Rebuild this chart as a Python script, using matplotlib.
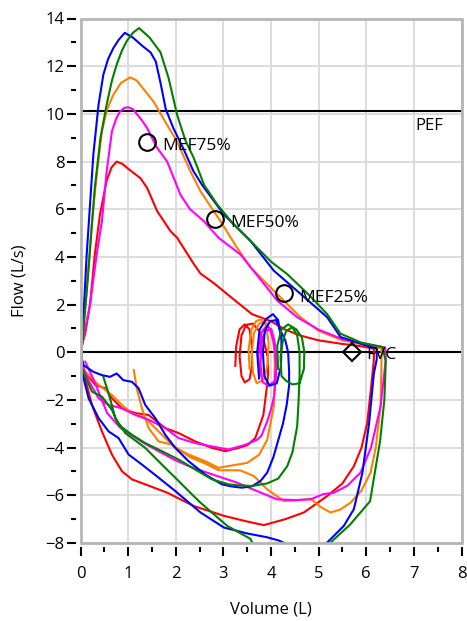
import matplotlib
matplotlib.use("Agg")
import matplotlib.pyplot as plt
from matplotlib.patches import Rectangle
from matplotlib.ticker import MultipleLocator

plt.rcParams['font.family'] = ['Open Sans', 'DejaVu Sans']

# ---------------- data (volume L, flow L/s) ----------------
red_vol = [3.25, 3.27, 3.34, 3.45, 3.55, 3.60, 3.60, 3.55, 3.45, 3.38, 3.34, 3.38, 3.48, 3.62, 3.75, 3.86, 3.93, 3.94,
           3.91, 3.84, 3.67, 3.50, 3.32, 3.04, 2.76, 2.41, 2.06, 1.78, 1.43, 1.15, 0.87, 0.66, 0.52, 0.31, 0.07, 0.02,
           0.03, 0.10, 0.20, 0.30, 0.41, 0.55, 0.65, 0.76, 0.88, 1.00, 1.26, 1.40, 1.61, 1.89, 2.03, 2.38, 2.52, 2.80, 3.08, 3.60, 4.00, 4.30, 4.62, 5.00, 5.46, 5.90, 6.16,
           6.16, 6.10, 6.02, 5.90, 5.74, 5.50, 5.18, 4.69, 4.30, 3.85, 3.50, 3.01, 2.38, 1.82, 1.36, 1.08, 0.87, 0.66, 0.45, 0.24, 0.07]
red_flow = [-0.57, 0.26, 0.96, 1.17, 0.96, 0.26, -0.57, -1.13, -1.27, -0.99, -0.16, 0.70, 1.15, 1.20, 0.90, 0.40, -0.20, -0.90,
            -1.51, -2.63, -3.60, -3.90, -4.01, -4.15, -4.01, -3.74, -3.39, -3.18, -2.63, -2.55, -2.35, -1.93, -1.51, -1.37, -0.75, -0.20,
            0.30, 0.80, 2.00, 4.10, 5.80, 7.20, 7.75, 8.00, 7.90, 7.70, 7.30, 6.89, 5.92, 5.08, 4.80, 3.70, 3.30, 2.90, 2.44, 1.60, 1.30, 0.95, 0.70, 0.50, 0.36, 0.25, 0.15,
            -0.33, -1.50, -2.97, -4.00, -4.78, -5.50, -6.03, -6.72, -7.00, -7.25, -7.10, -6.86, -6.45, -5.89, -5.54, -5.33, -4.99, -4.29, -3.32, -2.21, -0.89]

orange_vol = [3.55, 3.53, 3.59, 3.69, 3.80, 3.90, 3.95, 3.93, 3.85, 3.70, 3.62, 3.60, 3.64, 3.75, 3.88, 4.00, 4.07, 4.08,
              4.07, 4.06, 3.92, 3.75, 3.50, 3.08, 2.90, 2.62, 2.27, 1.99, 1.78, 1.57, 1.36, 1.08, 0.87, 0.66, 0.38, 0.10, 0.02,
              0.03, 0.12, 0.24, 0.35, 0.45, 0.56, 0.69, 0.85, 1.04, 1.18, 1.30, 1.42, 1.54, 1.80, 2.03, 2.31, 2.52, 2.94, 3.25, 3.57, 4.20, 4.62, 5.00, 5.50, 6.00, 6.32,
              6.32, 6.30, 6.20, 6.09, 5.90, 5.67, 5.45, 5.25, 5.05, 4.83, 4.60, 4.27, 3.92, 3.64, 3.35, 2.90, 2.60, 2.30, 2.05, 1.92, 1.64, 1.43, 1.29, 1.18, 1.12]
orange_flow = [-0.70, 0.13, 0.96, 1.31, 1.38, 1.10, 0.40, -0.50, -1.15, -1.30, -0.85, 0.00, 0.80, 1.20, 1.30, 0.90, 0.20, -0.60,
               -1.50, -2.28, -3.67, -4.30, -4.64, -4.78, -4.85, -4.57, -4.29, -4.01, -3.60, -3.18, -2.76, -2.55, -2.21, -1.79, -1.37, -0.82, -0.30,
               0.30, 2.40, 5.50, 7.60, 9.27, 10.20, 10.80, 11.30, 11.53, 11.40, 11.10, 10.80, 10.50, 9.60, 8.83, 7.58, 6.75, 5.50, 4.50, 3.56, 2.30, 1.47, 0.90, 0.50, 0.30, 0.15,
               -0.40, -2.28, -4.00, -5.05, -5.80, -6.31, -6.60, -6.72, -6.50, -6.14, -6.20, -6.24, -5.75, -5.19, -4.95, -4.95, -4.65, -4.40, -4.05, -3.88, -3.74, -3.18, -2.35, -1.51, -0.75]

magenta_vol = [3.76, 3.73, 3.80, 3.90, 4.01, 4.08, 4.11, 4.08, 3.95, 3.82, 3.78, 3.80, 3.88, 3.98, 4.05, 4.10, 4.10,
               4.07, 4.00, 3.92, 3.80, 3.71, 3.46, 3.11, 2.76, 2.41, 2.06, 1.78, 1.43, 1.15, 0.87, 0.59, 0.38, 0.20, 0.06, 0.02,
               0.03, 0.20, 0.34, 0.45, 0.55, 0.66, 0.75, 0.83, 0.92, 1.00, 1.10, 1.20, 1.30, 1.40, 1.60, 1.82, 2.10, 2.30, 2.59, 2.90, 3.36, 3.80, 4.13, 4.55, 5.00, 5.50, 6.00, 6.40,
               6.41, 6.30, 6.10, 5.88, 5.60, 5.32, 5.10, 4.83, 4.50, 4.13, 3.80, 3.29, 2.66, 2.30, 1.96, 1.33, 0.84, 0.56, 0.28, 0.10]
magenta_flow = [-0.99, -0.16, 0.83, 1.10, 0.96, 0.41, -0.57, -1.20, -1.40, -1.25, -0.50, 0.40, 0.90, 0.95, 0.50, -0.30, -1.00,
                -1.80, -2.40, -2.90, -3.50, -3.67, -3.88, -4.08, -3.95, -3.81, -3.60, -3.18, -2.83, -2.63, -2.35, -2.21, -1.93, -1.30, -0.68, -0.20,
                0.30, 2.00, 4.10, 5.50, 7.60, 9.27, 9.80, 10.10, 10.25, 10.28, 10.20, 9.95, 9.70, 9.40, 8.60, 8.00, 6.60, 6.00, 5.50, 4.80, 4.10, 3.00, 2.17, 1.47, 0.95, 0.55, 0.35, 0.20,
                -0.30, -2.28, -4.00, -5.05, -5.60, -5.89, -5.95, -6.17, -6.20, -6.17, -5.90, -5.47, -5.05, -4.80, -4.50, -3.81, -3.18, -2.55, -1.17, -0.40]

blue_vol = [3.75, 3.71, 3.76, 3.90, 4.04, 4.15, 4.22, 4.21, 4.12, 3.97, 3.86, 3.83, 3.87, 3.98, 4.10, 4.20, 4.30, 4.36, 4.38, 4.38,
            4.33, 4.25, 4.15, 4.05, 3.92, 3.78, 3.60, 3.39, 3.15, 2.97, 2.62, 2.27, 1.99, 1.78, 1.57, 1.36, 1.22, 1.08, 0.90, 0.76, 0.62, 0.45, 0.27, 0.06, 0.02,
            0.03, 0.13, 0.27, 0.38, 0.48, 0.58, 0.69, 0.80, 0.93, 1.10, 1.30, 1.47, 1.58, 1.68, 1.79, 1.95, 2.17, 2.37, 2.56, 3.01, 3.57, 4.06, 4.62, 5.18, 5.46, 5.90, 6.22,
            6.22, 6.16, 6.06, 5.92, 5.74, 5.53, 5.17, 4.70, 4.17, 3.92, 3.50, 3.01, 2.52, 1.99, 1.64, 1.29, 1.01, 0.80, 0.59, 0.38, 0.17, 0.03]
blue_flow = [-1.10, 0.00, 0.95, 1.40, 1.60, 1.35, 0.50, -0.60, -1.30, -1.40, -1.00, 0.00, 0.90, 1.30, 1.35, 0.90, 0.50, 0.00, -0.80, -1.40,
             -2.20, -3.00, -3.70, -4.40, -5.05, -5.40, -5.62, -5.68, -5.62, -5.54, -5.13, -4.57, -4.01, -3.46, -2.76, -2.21, -1.51, -1.24, -1.17, -0.89, -1.03, -0.96, -0.82, -0.54, -0.20,
             0.30, 4.10, 8.30, 10.40, 11.65, 12.30, 12.76, 13.10, 13.40, 13.20, 12.85, 12.58, 12.20, 11.30, 10.20, 9.40, 8.50, 7.60, 7.00, 5.78, 4.67, 3.42, 2.45, 1.47, 0.64, 0.35, 0.15,
             -0.30, -0.89, -2.97, -5.05, -6.58, -7.28, -8.00, -8.40, -7.90, -7.76, -7.60, -7.35, -6.72, -5.82, -5.26, -4.71, -4.29, -3.60, -3.32, -2.76, -1.93, -0.82]

green_vol = [4.15, 4.13, 4.22, 4.36, 4.53, 4.65, 4.70, 4.69, 4.60, 4.45, 4.32, 4.22, 4.20, 4.25, 4.32, 4.45, 4.55, 4.60, 4.60,
             4.58, 4.55, 4.45, 4.34, 4.15, 3.92, 3.60, 3.30, 3.11, 2.76, 2.41, 2.06, 1.71, 1.36, 1.08, 0.80, 0.66, 0.45, 0.24, 0.03, 0.01,
             0.03, 0.15, 0.30, 0.42, 0.55, 0.66, 0.76, 0.87, 0.97, 1.10, 1.23, 1.45, 1.68, 1.85, 2.03, 2.20, 2.38, 2.60, 2.87, 3.20, 3.64, 4.00, 4.34, 4.80, 5.18, 5.46, 5.90, 6.34,
             6.41, 6.38, 6.29, 6.08, 5.66, 5.24, 4.50, 3.62, 3.57, 3.08, 2.52, 2.34, 2.06, 1.78, 1.36, 0.94, 0.87, 0.73, 0.62, 0.48]
green_flow = [-0.70, 0.26, 0.96, 1.17, 0.96, 0.62, 0.00, -0.70, -1.30, -1.35, -1.20, -1.00, -0.20, 0.50, 0.90, 1.05, 0.70, 0.00, -1.00,
              -2.00, -3.10, -4.20, -4.78, -5.30, -5.50, -5.61, -5.58, -5.54, -5.33, -4.92, -4.50, -4.15, -3.81, -3.46, -3.04, -2.42, -1.86, -1.65, -0.68, -0.20,
              0.20, 3.00, 6.90, 9.00, 10.40, 11.40, 12.07, 12.65, 13.05, 13.40, 13.60, 13.20, 12.58, 11.50, 9.95, 8.90, 8.14, 7.00, 6.20, 5.40, 4.53, 3.80, 3.28, 2.40, 1.60, 0.78, 0.40, 0.22,
              -0.38, -2.00, -3.73, -6.25, -7.23, -8.00, -8.80, -8.05, -7.83, -7.28, -6.31, -5.96, -5.40, -4.85, -4.01, -3.39, -3.18, -2.76, -1.93, -1.03]

series = [
    (red_vol, red_flow, '#ff0000'),
    (orange_vol, orange_flow, '#ff7f00'),
    (magenta_vol, magenta_flow, '#ff00ff'),
    (blue_vol, blue_flow, '#0000ff'),
    (green_vol, green_flow, '#008000'),
]

mef_vol = [1.40, 2.83, 4.28]
mef_flow = [8.81, 5.58, 2.47]
mef_labels = ['MEF75%', 'MEF50%', 'MEF25%']
fvc_vol = 5.70
fvc_flow = 0.0
pef_flow = 10.1

# ---------------- figure ----------------
W, H = 467, 621
fig = plt.figure(figsize=(W / 100, H / 100), dpi=100)
ax = fig.add_axes([80.5 / W, 1 - 543 / H, 381 / W, 524.5 / H])

ax.set_xlim(0, 8)
ax.set_ylim(-8, 14)
ax.xaxis.set_major_locator(MultipleLocator(1))
ax.xaxis.set_minor_locator(MultipleLocator(0.5))
ax.yaxis.set_major_locator(MultipleLocator(2))
ax.yaxis.set_minor_locator(MultipleLocator(1))

ax.grid(True, which='major', color='#dcdcdc', lw=1.4, zorder=0)
ax.set_axisbelow(True)

for s in ax.spines.values():
    s.set_visible(False)
ax.spines['left'].set_position(('outward', 3))
ax.spines['bottom'].set_position(('outward', 3))
ax.add_patch(Rectangle((0, 0), 1, 1, transform=ax.transAxes, fill=False,
                       ec='#b5b5b5', lw=2.0, zorder=5, clip_on=False))

ax.tick_params(which='major', direction='out', length=6.5, width=1.5, color='black',
               labelsize=12)
ax.tick_params(axis='y', which='major', pad=2)
ax.tick_params(axis='x', which='major', pad=7)
ax.tick_params(which='minor', direction='out', length=3.5, width=1.5, color='black')
ax.tick_params(top=False, right=False)

ax.axhline(0, color='black', lw=1.5, zorder=2)
ax.axhline(pef_flow, color='black', lw=1.5, zorder=2)

for v, f, c in series:
    ax.plot(v, f, color=c, lw=1.5, zorder=3, solid_joinstyle='round')

ax.plot(mef_vol, mef_flow, 'o', ms=12, mfc='none', mec='black', mew=1.5, zorder=4)
for v, f, t in zip(mef_vol, mef_flow, mef_labels):
    ax.annotate(t, (v, f), xytext=(11, -3), textcoords='offset points',
                ha='left', va='center', fontsize=12.5, zorder=4)
ax.plot([fvc_vol], [fvc_flow], 'D', ms=9, mfc='none', mec='black', mew=1.5, zorder=4)
ax.annotate('FVC', (fvc_vol, fvc_flow), xytext=(10, -2), textcoords='offset points',
            ha='left', va='center', fontsize=12.5, zorder=4)
ax.text(7.03, pef_flow - 0.6, 'PEF', ha='left', va='center', fontsize=12)

ax.set_xlabel('Volume (L)', fontsize=12, labelpad=14)
ax.set_ylabel('Flow (L/s)', fontsize=12, labelpad=13)

fig.savefig('out.png', dpi=100)
